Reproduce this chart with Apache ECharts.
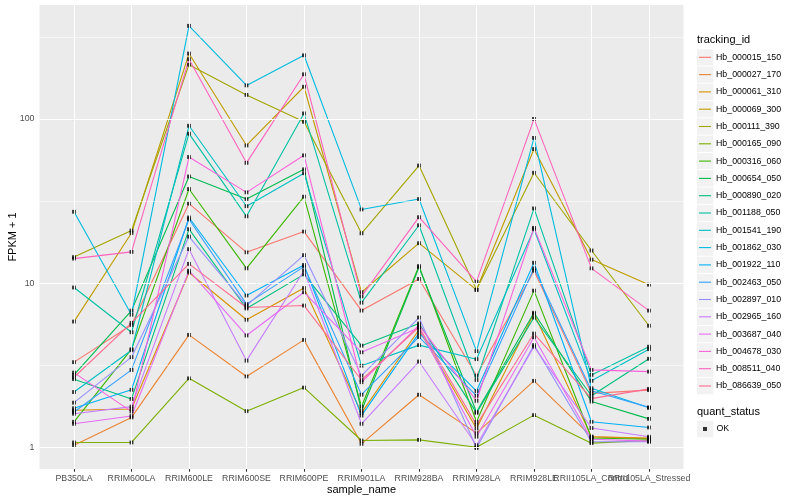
<!DOCTYPE html>
<html><head><meta charset="utf-8">
<script src="https://cdn.jsdelivr.net/npm/echarts@6/dist/echarts.min.js"></script>
<style>html,body{margin:0;padding:0;background:#fff}#c{width:800px;height:500px}</style>
</head><body><div id="c"></div>
<script>
// ---- data ----
const categories = ['PB350LA','RRIM600LA','RRIM600LE','RRIM600SE','RRIM600PE','RRIM901LA','RRIM928BA','RRIM928LA','RRIM928LE','RRII105LA_Control','RRII105LA_Stressed'];
const trackingIds = ['Hb_000015_150','Hb_000027_170','Hb_000061_310','Hb_000069_300','Hb_000111_390','Hb_000165_090','Hb_000316_060','Hb_000654_050','Hb_000890_020','Hb_001188_050','Hb_001541_190','Hb_001862_030','Hb_001922_110','Hb_002463_050','Hb_002897_010','Hb_002965_160','Hb_003687_040','Hb_004678_030','Hb_008511_040','Hb_086639_050'];
const seriesColors = ['#F8766D','#EA8331','#D89000','#C09B00','#A3A500','#7CAE00','#39B600','#00BB4E','#00BF7D','#00C1A3','#00BFC4','#00BAE0','#00B0F6','#35A2FF','#9590FF','#C77CFF','#E76BF3','#FA62DB','#FF62BC','#FF6C91'];
const quantStatus = ['OK'];
const yTickValues = [1, 10, 100];
const yMinorValues = [3.1623, 31.623, 316.23];

const hb000015_150 = [3.30, 5.56, 30.5, 15.4, 20.6, 6.8, 10.6, 2.73, 11.9, 2.13, 2.23];
const hb000027_170 = [1.03, 1.52, 4.84, 2.70, 4.51, 1.05, 2.09, 1.22, 2.54, 1.16, 1.13];
const hb000061_310 = [1.68, 1.71, 11.6, 5.98, 9.33, 1.62, 5.2, 1.30, 6.5, 1.16, 1.14];
const hb000069_300 = [5.83, 20.2, 250, 68.9, 157, 8.8, 17.5, 9.1, 65.5, 13.9, 9.78];
const hb000111_390 = [14.4, 20.9, 214, 140, 96, 20.1, 52, 9.1, 47, 15.8, 5.5];
const hb000165_090 = [1.07, 1.07, 2.63, 1.66, 2.31, 1.10, 1.11, 1.00, 1.57, 1.06, 1.10];
const hb000316_060 = [1.43, 3.96, 37.4, 12.3, 33.6, 1.77, 12.7, 1.43, 9.0, 1.14, 1.12];
const hb000654_050 = [2.76, 6.8, 44.6, 32.5, 49.3, 1.67, 12.5, 1.64, 6.6, 1.90, 1.49];
const hb000890_020 = [2.60, 1.97, 21.3, 7.0, 11.3, 4.16, 5.68, 1.62, 6.17, 2.06, 3.46];
const hb001188_050 = [9.4, 5.02, 81.3, 25.5, 108, 7.6, 22.5, 2.57, 28.5, 2.76, 4.1];
const hb001541_190 = [2.17, 3.9, 90.8, 29.4, 46.7, 3.14, 4.19, 3.44, 21.3, 2.54, 3.96];
const hb001862_030 = [27.2, 6.42, 369, 160, 244, 28.1, 32.5, 3.85, 76.6, 2.29, 1.74];
const hb001922_110 = [1.73, 2.24, 25.1, 8.4, 12.9, 1.56, 4.96, 2.2, 13.3, 1.43, 1.32];
const hb002463_050 = [1.64, 2.96, 24.5, 7.45, 12.6, 2.09, 4.7, 2.06, 12.3, 2.21, 1.75];
const hb002897_010 = [1.87, 3.54, 19.2, 7.3, 14.8, 2.73, 6.17, 0.99, 4.19, 1.08, 1.08];
const hb002965_160 = [1.60, 1.77, 16.1, 3.37, 11.9, 1.39, 3.33, 1.03, 4.1, 1.31, 1.16];
const hb003687_040 = [1.39, 1.55, 11.9, 4.8, 8.8, 3.79, 5.35, 1.16, 4.68, 1.12, 1.09];
const hb004678_030 = [2.85, 1.65, 58.6, 35.7, 60, 2.49, 5.55, 1.92, 21.7, 2.96, 2.89];
const hb008511_040 = [14.1, 15.5, 231, 54, 187, 8.3, 25.2, 10.2, 100, 12.3, 6.8];
const hb086639_050 = [2.67, 5.73, 13.1, 7.1, 7.3, 2.57, 5.4, 1.37, 4.93, 1.98, 2.27];

const seriesValues = [hb000015_150, hb000027_170, hb000061_310, hb000069_300, hb000111_390, hb000165_090, hb000316_060, hb000654_050, hb000890_020, hb001188_050, hb001541_190, hb001862_030, hb001922_110, hb002463_050, hb002897_010, hb002965_160, hb003687_040, hb004678_030, hb008511_040, hb086639_050];

// ---- layout ----
const PL = 39.5, PR = 683.5, PT = 5, PB = 469;
const FONT = '"Liberation Sans", Arial, Helvetica, sans-serif';
const KEY = 17.3, LEG_Y0 = 48.65;

const catIdx = categories.map((c, i) => i);
const labelSetA = catIdx.filter(i => i % 2 === 0);   // split so overlapping neighbours are drawn by two axes
const labelSetB = catIdx.filter(i => i % 2 === 1);

const lineSeries = trackingIds.map((id, k) => ({
  name: id, type: 'line', z: 2,
  data: seriesValues[k].map((v, i) => [i, v]),
  showSymbol: false, symbol: 'none',
  lineStyle: { width: 1.1, color: seriesColors[k] },
  itemStyle: { color: seriesColors[k] },
  silent: true
}));

const pointData = [];
seriesValues.forEach(arr => arr.forEach((v, i) => pointData.push([i, v])));

const gridSeries = {
  name: '_grid', type: 'line', data: [], z: 1, silent: true,
  markLine: {
    silent: true, symbol: ['none', 'none'], label: { show: false }, animation: false,
    data: [
      ...yMinorValues.map(v => ({ yAxis: v, lineStyle: { color: '#FFFFFF', width: 0.55, type: 'solid' } })),
      ...yTickValues.map(v => ({ yAxis: v, lineStyle: { color: '#FFFFFF', width: 1.1, type: 'solid' } })),
      ...catIdx.map(i => ({ xAxis: i, lineStyle: { color: '#FFFFFF', width: 1.1, type: 'solid' } }))
    ]
  }
};

const graphics = [];
trackingIds.forEach((id, k) => {
  graphics.push({ type: 'rect', left: 697, top: LEG_Y0 + k * KEY + 0.5, shape: { width: KEY - 1, height: KEY - 1 }, style: { fill: '#F2F2F2' }, z: -1, silent: true });
});
graphics.push({ type: 'rect', left: 697, top: 429 - KEY / 2 + 0.5, shape: { width: KEY - 1, height: KEY - 1 }, style: { fill: '#F2F2F2' }, z: -1, silent: true });
graphics.push({ type: 'text', left: 697, top: 34, style: { text: 'tracking_id', font: '11px ' + FONT, fill: '#000' }, silent: true });
graphics.push({ type: 'text', left: 697, top: 406, style: { text: 'quant_status', font: '11px ' + FONT, fill: '#000' }, silent: true });

const xLabelStyle = { show: true, margin: 5.5, fontFamily: FONT, fontSize: 8.8, color: '#4D4D4D', hideOverlap: false, formatter: v => categories[Math.round(v)] || '' };

const option = {
  animation: false,
  color: seriesColors,
  backgroundColor: '#FFFFFF',
  grid: { left: PL, right: 800 - PR, top: PT, bottom: 500 - PB, show: true, backgroundColor: '#EBEBEB', borderWidth: 0,
    containLabel: false, outerBoundsMode: 'none' },
  xAxis: [{
    type: 'value', min: -0.6, max: 10.6, position: 'bottom',
    name: 'sample_name', nameLocation: 'middle', nameGap: 15, nameMoveOverlap: false,
    nameTextStyle: { fontFamily: FONT, fontSize: 11, color: '#000' },
    axisLine: { show: false },
    axisTick: { show: true, length: 2.75, lineStyle: { color: '#333333', width: 1.07 }, customValues: catIdx },
    axisLabel: Object.assign({ customValues: labelSetA }, xLabelStyle),
    splitLine: { show: false }
  }, {
    type: 'value', min: -0.6, max: 10.6, position: 'bottom', offset: 0,
    axisLine: { show: false }, axisTick: { show: false },
    axisLabel: Object.assign({ customValues: labelSetB }, xLabelStyle),
    splitLine: { show: false }
  }],
  yAxis: {
    type: 'log', logBase: 10, min: 0.7376, max: 494,
    name: 'FPKM + 1', nameLocation: 'middle', nameRotate: 90, nameGap: 21, nameMoveOverlap: false,
    nameTextStyle: { fontFamily: FONT, fontSize: 11, color: '#000' },
    axisLine: { show: false },
    axisTick: { show: true, length: 2.75, lineStyle: { color: '#333333', width: 1.07 }, customValues: yTickValues },
    axisLabel: { show: true, margin: 5, fontFamily: FONT, fontSize: 8.8, color: '#4D4D4D', customValues: yTickValues,
      formatter: v => { const r = Math.round(v); return yTickValues.indexOf(r) >= 0 && Math.abs(v - r) < 1e-6 * r ? String(r) : ''; } },
    splitLine: { show: false }, minorSplitLine: { show: false }
  },
  legend: [
    { data: trackingIds, orient: 'vertical', left: 699, top: LEG_Y0, padding: 0, itemGap: 0,
      itemWidth: 12, itemHeight: 1.1, icon: 'rect', selectedMode: false,
      textStyle: { fontFamily: FONT, fontSize: 8.8, color: '#000', lineHeight: KEY } },
    { data: quantStatus, orient: 'vertical', left: 703, top: 429 - KEY / 2, padding: 0, itemGap: 0,
      itemWidth: 4, itemHeight: 4, icon: 'rect', selectedMode: false,
      textStyle: { fontFamily: FONT, fontSize: 8.8, color: '#000', lineHeight: KEY, padding: [0, 0, 0, 4.5] } }
  ],
  graphic: graphics,
  series: [
    gridSeries,
    ...lineSeries,
    { name: 'OK', type: 'scatter', z: 3, data: pointData, symbol: 'rect', symbolSize: 3.8, itemStyle: { color: '#000000' }, silent: true }
  ]
};

const chart = echarts.init(document.getElementById('c'), null, { renderer: 'canvas' });
chart.setOption(option);
</script>
</body></html>
